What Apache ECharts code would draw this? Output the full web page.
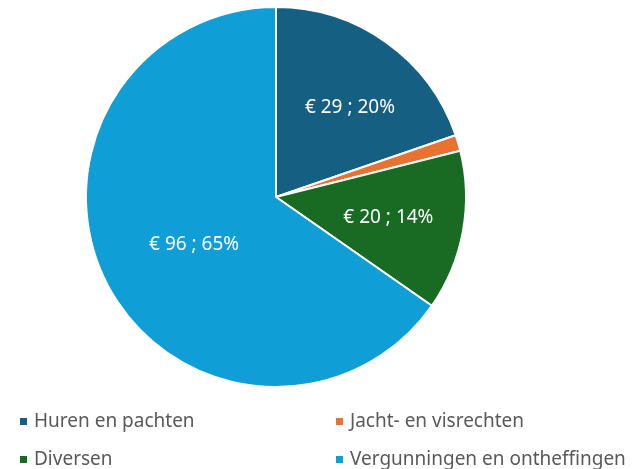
<!DOCTYPE html>
<html>
<head>
<meta charset="utf-8">
<script src="https://cdn.jsdelivr.net/npm/echarts@6/dist/echarts.min.js"></script>
<style>
  html, body { margin: 0; padding: 0; background: #fff; }
  #chart { width: 633px; height: 469px; }
</style>
</head>
<body>
<div id="chart"></div>
<script>
// categories + values (euro)
var categories = ['Huren en pachten', 'Jacht- en visrechten', 'Diversen', 'Vergunningen en ontheffingen'];
var amounts = [29, 2, 20, 96];
var colors = ['#156082', '#E97132', '#196B24', '#0F9ED5'];
var showLabel = [true, false, true, true];

var total = amounts.reduce(function (a, b) { return a + b; }, 0);
var pieData = categories.map(function (name, i) {
    return {
        name: name,
        value: amounts[i],
        itemStyle: { color: colors[i] },
        label: { show: showLabel[i] }
    };
});

var font = "'Noto Sans', 'DejaVu Sans', sans-serif";

// nudge the inside labels a bit, like Excel's "best fit"
var labelNudge = [[17, -10], [0, 0], [16, 3], [5, 2]];

function legendAt(name, left, top) {
    return {
        data: [name],
        left: left,
        top: top,
        itemWidth: 9,
        itemHeight: 9,
        icon: 'rect',
        itemGap: 0,
        textStyle: { color: '#595959', fontSize: 19, fontFamily: font, padding: [0, 0, 0, 1] },
        selectedMode: false
    };
}

var myChart = echarts.init(document.getElementById('chart'));
var option = {
    animation: false,
    legend: [
        legendAt(categories[0], 13, 407),
        legendAt(categories[1], 329, 407),
        legendAt(categories[2], 13, 445),
        legendAt(categories[3], 329, 445)
    ],
    series: [
        {
            type: 'pie',
            center: [276, 197],
            radius: 190,
            startAngle: 90,
            clockwise: true,
            itemStyle: { borderColor: '#fff', borderWidth: 2 },
            label: {
                position: 'inside',
                color: '#fff',
                fontSize: 19,
                fontFamily: font,
                formatter: function (p) {
                    return '€ ' + p.value + ' ; ' + Math.round(p.value / total * 100) + '%';
                }
            },
            labelLayout: function (params) {
                var n = labelNudge[params.dataIndex];
                return { dx: n[0], dy: n[1] };
            },
            labelLine: { show: false },
            emphasis: { disabled: true },
            data: pieData
        }
    ]
};
myChart.setOption(option);
</script>
</body>
</html>
